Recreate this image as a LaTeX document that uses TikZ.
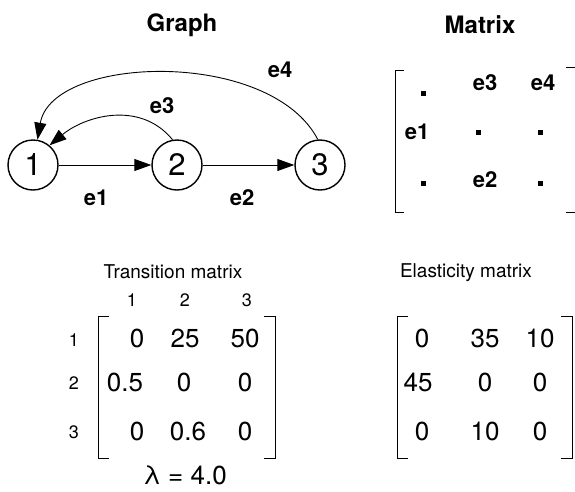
\documentclass[tikz,border=0pt]{standalone}
\usepackage{fontspec}
\setmainfont{TeX Gyre Heros}
\usetikzlibrary{arrows.meta}
\begin{document}
\begin{tikzpicture}[x=1pt,y=-1pt,
  state/.style={draw,circle,line width=1.4pt,minimum size=50pt,inner sep=0pt,font=\fontsize{31}{33}\selectfont},
  arr/.style={line width=0.9pt,-{Triangle[length=17pt,width=12pt]}},
  title/.style={font=\fontsize{24}{26}\selectfont\bfseries},
  elab/.style={font=\fontsize{22}{24}\selectfont\bfseries},
  sub/.style={font=\fontsize{19}{21}\selectfont},
  idx/.style={font=\fontsize{18}{20}\selectfont},
  num/.style={font=\fontsize{26}{28}\selectfont},
  brk/.style={line width=1pt},
  dot/.style={fill,minimum size=5pt,inner sep=0pt}]
\useasboundingbox (0,0) rectangle (575,491);
% titles
\node[title] (tg) at (182,25) {Graph};
\node[title] (tm) at (480,25) {Matrix};
% graph
\node[state] (n1) at (33,165) {1};
\node[state] (n2) at (177,165) {2};
\node[state] (n3) at (320,165) {3};
\draw[arr] (n1) -- (n2);
\draw[arr] (n2) -- (n3);
\draw[arr] (n2.100) .. controls (140,100) and (85,116) .. (n1.50);
\draw[arr] (n3.95) .. controls (270,48) and (52,55) .. (n1.80);
\node[elab] (le1) at (96,198) {e1};
\node[elab] (le2) at (242,198) {e2};
\node[elab] (le3) at (162,106) {e3};
\node[elab] (le4) at (280,70) {e4};
% top matrix
\draw[brk] (404,70) -- (395,70) -- (395,212) -- (404,212);
\draw[brk] (566,67) -- (577,67) -- (577,212) -- (566,212);
\node[dot] (d11) at (423,93) {};
\node[elab] (m12) at (485,83) {e3};
\node[elab] (m13) at (543,83) {e4};
\node[elab] (m21) at (417,132) {e1};
\node[dot] (d22) at (478,132) {};
\node[dot] (d23) at (540,132) {};
\node[dot] (d31) at (423,183) {};
\node[elab] (m32) at (485,180) {e2};
\node[dot] (d33) at (540,183) {};
% transition matrix
\node[sub] (tt) at (173,272) {Transition matrix};
\node[idx] (c1) at (132,300) {1};
\node[idx] (c2) at (185,300) {2};
\node[idx] (c3) at (247,300) {3};
\node[idx] (r1) at (74,340) {1};
\node[idx] (r2) at (74,383) {2};
\node[idx] (r3) at (74,432) {3};
\draw[brk] (109,316) -- (98,316) -- (98,458) -- (109,458);
\draw[brk] (264,316) -- (275,316) -- (275,458) -- (264,458);
\node[num] (t11) at (137,338) {0};
\node[num] (t12) at (185,338) {25};
\node[num] (t13) at (245,338) {50};
\node[num] (t21) at (125,382) {0.5};
\node[num] (t22) at (184,382) {0};
\node[num] (t23) at (245,382) {0};
\node[num] (t31) at (137,431) {0};
\node[num] (t32) at (188,431) {0.6};
\node[num] (t33) at (245,431) {0};
\node[num,inner sep=1pt] (lam) at (185,475) {λ = 4.0};
% elasticity matrix
\node[sub] (et) at (466,273) {Elasticity matrix};
\draw[brk] (408,316) -- (397,316) -- (397,458) -- (408,458);
\draw[brk] (561,316) -- (572,316) -- (572,458) -- (561,458);
\node[num] (e11) at (422,338) {0};
\node[num] (e12) at (485,338) {35};
\node[num] (e13) at (540,338) {10};
\node[num] (e21) at (418,382) {45};
\node[num] (e22) at (485,382) {0};
\node[num] (e23) at (540,382) {0};
\node[num] (e31) at (422,431) {0};
\node[num] (e32) at (485,431) {10};
\node[num] (e33) at (540,431) {0};
\end{tikzpicture}
\end{document}
